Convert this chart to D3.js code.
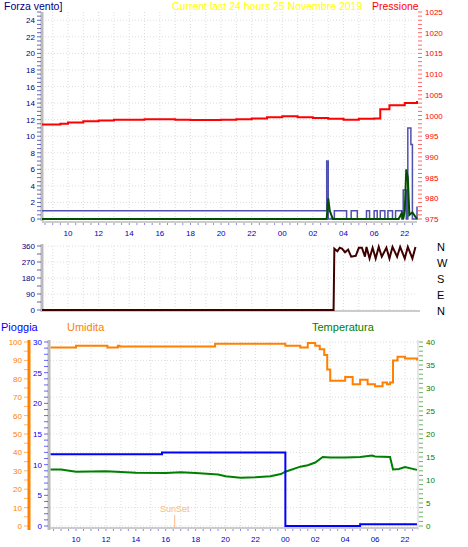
<!DOCTYPE html>
<html><head><meta charset="utf-8">
<script src="https://cdn.jsdelivr.net/npm/d3@7"></script>
<style>body{margin:0;background:#fff}svg{font-family:"Liberation Sans",Arial,sans-serif}</style>
</head><body><svg id="c" width="468" height="547"></svg>
<script>
// hours since midnight of the first day (24+ = next day)
var xTickHours = [10,12,14,16,18,20,22,24,26,28,30,32];
var xTickLabels = ["10","12","14","16","18","20","22","00","02","04","06","22"];

var pressT = [8.3,9,9.5,10,11,12,13,14,15,16,17,18,19,20,21,22,23,24,25,26,27,28,29,30,30.4,31,32,32.8];
var pressV = [997.8,997.8,998,998.3,998.6,998.8,999,999,999.1,999.1,999,998.9,998.9,999,999.1,999.3,999.6,999.8,999.6,999.4,999.2,999,999.2,999.3,1001.5,1002.5,1003,1003.5];

var windT = [8.3,26.9,27.0,27.2,27.4,28.2,28.5,28.9,29.5,29.7,30,30.2,30.4,30.7,30.9,31.2,31.4,31.8,31.9,32.1,32.2,32.4,32.5,32.8];
var windV = [1,7,0,0.1,1,0,1,0,1,0,1,0,1,0,1,0,1,0,3.5,0,11,9,0,1.5];
var gustT = [8.3,26.9,27.0,27.1,27.3,31.6,31.8,31.9,32.0,32.1,32.2,32.3,32.5,32.8];
var gustV = [0,0,2.5,1,0,0,0.7,0,1,6,5,0.5,0.8,0];

var dirT = [8.3,27.35,27.4,27.6,27.75,27.9,28.1,28.3,28.5,28.8,29.0,29.2,29.4,29.5,29.7,29.9,30.1,30.3,30.5,30.8,31.0,31.2,31.5,31.7,32.0,32.2,32.5,32.7];
var dirV = [0,0,345,330,350,345,325,340,300,305,350,350,300,355,290,350,290,355,300,350,290,355,300,355,290,355,290,355];

var humT = [8.3,10,12,12.1,12.8,12.9,19.3,24,25,25.5,26,26.3,26.6,26.8,27,27.5,28,28.5,29,29.5,30,30.5,30.8,31,31.2,31.5,32,32.8];
var humV = [97,98,98,97,98,97.5,99,98,97,99.5,98,96,93,85,79,79,81,77,79.5,77,76,78,77,78,90,92,91,90];
var tempT = [8.3,9,10,12,14,16,17,18,19.5,20,21,22,23,23.7,24,25,25.5,26,26.5,27,28,29,29.8,30,31,31.2,31.6,32,32.8];
var tempV = [12.3,12.3,11.8,11.9,11.6,11.5,11.7,11.5,11.2,10.8,10.5,10.6,10.8,11.3,11.8,12.9,13.2,13.8,15,14.9,14.9,15,15.3,15.1,15,12.3,12.4,12.8,12.2];
var rainT = [8.3,15.75,24,29,32.8];
var rainV = [11.7,12,0,0.3,0.3];

var svg = d3.select("#c");
var hourTicks = d3.range(9,33);

function grid(g, x, y0, y1, yTicks, y) {
  g.selectAll(".gv").data(hourTicks).enter().append("line")
    .attr("x1", d=>x(d)).attr("x2", d=>x(d)).attr("y1", y0).attr("y2", y1)
    .attr("stroke","#ddd").attr("stroke-dasharray","1,2");
  g.selectAll(".gh").data(yTicks).enter().append("line")
    .attr("x1", x.range()[0]).attr("x2", x.range()[1]).attr("y1", d=>y(d)).attr("y2", d=>y(d))
    .attr("stroke","#ddd").attr("stroke-dasharray","1,2");
}
function xAxis(x, yTop, yBot) {
  var g = svg.append("g");
  g.append("line").attr("x1",x.range()[0]).attr("x2",x.range()[1]).attr("y1",yBot).attr("y2",yBot).attr("stroke","#ccc").attr("stroke-width",2);
  g.selectAll("line.m").data(d3.range(8.5,33,0.5).filter(h=>x(h)<=x.range()[1])).enter().append("line")
    .attr("x1",d=>x(d)).attr("x2",d=>x(d)).attr("y1",yBot+1).attr("y2",yBot+3).attr("stroke","#88f");
  g.selectAll("text").data(xTickHours).enter().append("text")
    .attr("x",(d)=>x(d)).attr("y",yBot+14).attr("text-anchor","middle")
    .attr("font-size",8).attr("fill","#0000c0").text((d,i)=>xTickLabels[i]);
}
function yAxis(y, xPos, ticks, minor, color, side, fmt) {
  var g = svg.append("g");
  g.selectAll("line.m").data(minor).enter().append("line")
    .attr("x1", xPos).attr("x2", xPos + (side<0?-4:4)).attr("y1",d=>y(d)).attr("y2",d=>y(d))
    .attr("stroke",color).attr("stroke-opacity",0.6);
  g.selectAll("text").data(ticks).enter().append("text")
    .attr("x", xPos + (side<0?-6:7)).attr("y", d=>y(d)+3)
    .attr("text-anchor", side<0?"end":"start").attr("font-size",8).attr("fill",color).text(fmt||(d=>d));
}

// ---- top panel: wind speed + pressure
var x1 = d3.scaleLinear().domain([8.3,32.8]).range([42,417]);
var yW = d3.scaleLinear().domain([0,25]).range([219,12]);
var yP = d3.scaleLinear().domain([975,1025]).range([219,12]);
grid(svg.append("g"), x1, 12, 219, d3.range(0,26,2), yW);
svg.append("line").attr("x1",42).attr("x2",42).attr("y1",12).attr("y2",221).attr("stroke","#bbb").attr("stroke-width",3);
yAxis(yW, 41, d3.range(0,25,2), d3.range(0,25.1,0.5), "#000080", -1);
yAxis(yP, 418, d3.range(975,1026,5), d3.range(975,1025.1,1), "#ff0000", 1);
xAxis(x1, 12, 222);
var lineStep = (x,y)=>d3.line().x(d=>x(d[0])).y(d=>y(d[1])).curve(d3.curveStepAfter);
var lineLin = (x,y)=>d3.line().x(d=>x(d[0])).y(d=>y(d[1]));
svg.append("path").datum(d3.zip(windT,windV)).attr("d",lineStep(x1,yW)).attr("fill","none").attr("stroke","#5050b0").attr("stroke-width",1.5);
svg.append("path").datum(d3.zip(gustT,gustV)).attr("d",lineLin(x1,yW)).attr("fill","none").attr("stroke","#005000").attr("stroke-width",2);
svg.append("path").datum(d3.zip(pressT,pressV)).attr("d",lineStep(x1,yP)).attr("fill","none").attr("stroke","#ff0000").attr("stroke-width",2);
svg.append("text").attr("x",4).attr("y",10).attr("font-size",10.5).attr("fill","#000080").text("Forza vento]");
svg.append("text").attr("x",172).attr("y",10).attr("font-size",10.5).attr("fill","#ffff00").text("Current last 24 hours 25 Novembre 2019");
svg.append("text").attr("x",372).attr("y",10).attr("font-size",10.5).attr("fill","#ff0000").text("Pressione");

// ---- wind direction panel
var yD = d3.scaleLinear().domain([0,360]).range([310,246]);
grid(svg.append("g"), x1, 246, 310, [0,90,180,270,360], yD);
svg.append("line").attr("x1",42).attr("x2",42).attr("y1",244).attr("y2",312).attr("stroke","#bbb").attr("stroke-width",3);
svg.append("line").attr("x1",42).attr("x2",420).attr("y1",311).attr("y2",311).attr("stroke","#ccc").attr("stroke-width",2);
yAxis(yD, 41, [0,90,180,270,360], [0,45,90,135,180,225,270,315,360], "#000080", -1);
svg.append("path").datum(d3.zip(dirT,dirV)).attr("d",lineLin(x1,yD)).attr("fill","none").attr("stroke","#400000").attr("stroke-width",2);
var dirLabels = ["N","W","S","E","N"];
svg.selectAll("text.dl").data(dirLabels).enter().append("text")
  .attr("x",437).attr("y",(d,i)=>yD(360-i*90)+5).attr("font-size",11).attr("fill","#000").text(d=>d);

// ---- bottom panel: rain, humidity, temperature
var x2 = d3.scaleLinear().domain([8.26,32.87]).range([50,418]);
var yH = d3.scaleLinear().domain([0,100]).range([526,342]);
var yR = d3.scaleLinear().domain([0,30]).range([526,342]);
var yT = d3.scaleLinear().domain([0,40]).range([526,342]);
grid(svg.append("g"), x2, 342, 526, d3.range(0,101,10), yH);
svg.append("line").attr("x1",29).attr("x2",29).attr("y1",340).attr("y2",530).attr("stroke","#ff8000").attr("stroke-width",3);
svg.append("line").attr("x1",49).attr("x2",49).attr("y1",340).attr("y2",530).attr("stroke","#bbb").attr("stroke-width",3);
svg.append("line").attr("x1",418).attr("x2",418).attr("y1",340).attr("y2",530).attr("stroke","#ccc").attr("stroke-width",1);
yAxis(yH, 28, d3.range(0,101,10), d3.range(0,101,5), "#ff8000", -1);
yAxis(yR, 48, d3.range(0,31,5), d3.range(0,30.1,1), "#0000ff", -1);
yAxis(yT, 419, d3.range(0,41,5), d3.range(0,40.1,1), "#008000", 1);
xAxis(x2, 342, 528);
svg.append("path").datum(d3.zip(humT,humV)).attr("d",lineStep(x2,yH)).attr("fill","none").attr("stroke","#ff8000").attr("stroke-width",2);
svg.append("path").datum(d3.zip(tempT,tempV)).attr("d",lineLin(x2,yT)).attr("fill","none").attr("stroke","#008000").attr("stroke-width",2);
svg.append("path").datum(d3.zip(rainT,rainV)).attr("d",lineStep(x2,yR)).attr("fill","none").attr("stroke","#0000ff").attr("stroke-width",2);
var sunset = 16.6;
svg.append("line").attr("x1",x2(sunset)).attr("x2",x2(sunset)).attr("y1",515).attr("y2",528).attr("stroke","#f8b888");
svg.append("text").attr("x",x2(sunset)).attr("y",512).attr("text-anchor","middle").attr("font-size",9).attr("fill","#f8b888").text("SunSet");
svg.append("text").attr("x",1).attr("y",331).attr("font-size",11).attr("fill","#0000ff").text("Pioggia");
svg.append("text").attr("x",67).attr("y",331).attr("font-size",11).attr("fill","#ff8000").text("Umidita");
svg.append("text").attr("x",312).attr("y",331).attr("font-size",11).attr("fill","#008000").text("Temperatura");
</script></body></html>
